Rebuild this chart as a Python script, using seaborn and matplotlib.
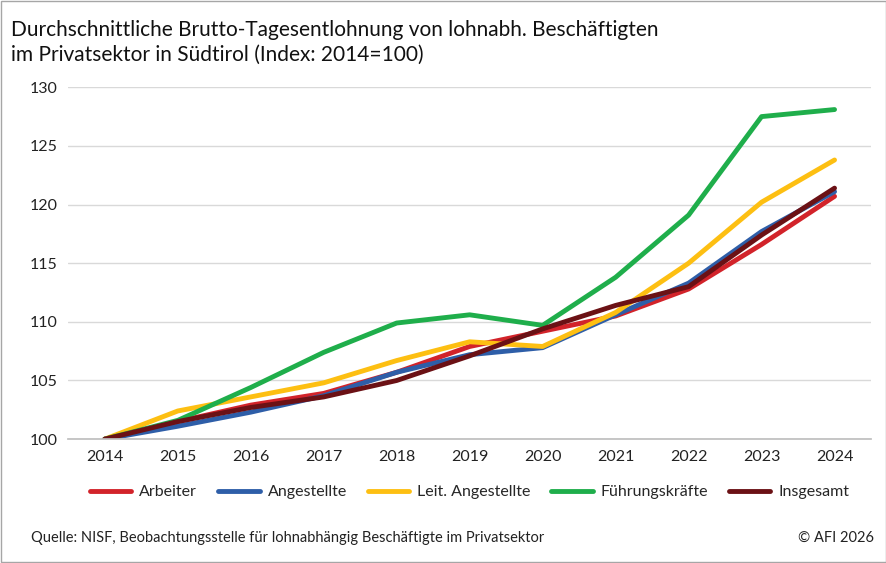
import matplotlib
matplotlib.use("Agg")
import matplotlib.pyplot as plt
import seaborn as sns
import pandas as pd

years = list(range(2014, 2025))
arbeiter = [100, 101.5, 102.9, 103.9, 105.7, 107.9, 109.2, 110.5, 112.8, 116.6, 120.7]
angestellte = [100, 101.1, 102.3, 103.7, 105.7, 107.2, 107.8, 110.6, 113.3, 117.7, 121.1]
leit_angestellte = [100, 102.4, 103.6, 104.8, 106.7, 108.3, 107.9, 110.8, 115.0, 120.2, 123.8]
fuehrung = [100, 101.6, 104.4, 107.4, 109.9, 110.6, 109.7, 113.8, 119.1, 127.5, 128.1]
insgesamt = [100, 101.5, 102.7, 103.6, 105.0, 107.1, 109.4, 111.4, 113.0, 117.4, 121.4]

series = {
    "Arbeiter": (arbeiter, "#d2232a"),
    "Angestellte": (angestellte, "#2e5ea8"),
    "Leit. Angestellte": (leit_angestellte, "#fdbf12"),
    "Führungskräfte": (fuehrung, "#1fae4b"),
    "Insgesamt": (insgesamt, "#6b1115"),
}
df = pd.DataFrame({"Jahr": years * len(series),
                   "Gruppe": sum([[k] * len(years) for k in series], []),
                   "Wert": sum([v[0] for v in series.values()], [])})

sns.set_theme(style="white")
plt.rcParams["font.family"] = ["Lato", "DejaVu Sans"]

fig = plt.figure(figsize=(8.87, 5.63), dpi=100)
ax = fig.add_axes([0.077, 0.22, 0.905, 0.625])
sns.lineplot(data=df, x="Jahr", y="Wert", hue="Gruppe", ax=ax, linewidth=3.5,
             palette={k: v[1] for k, v in series.items()}, legend=True)

ax.set_ylim(100, 130)
ax.set_xlim(2013.5, 2024.5)
ax.set_yticks(range(100, 131, 5))
ax.set_xticks(years)
ax.grid(axis="y", color="#d9d9d9", linewidth=1)
ax.set_axisbelow(True)
for s in ["top", "right", "left"]:
    ax.spines[s].set_visible(False)
ax.spines["bottom"].set_color("#bfbfbf")
ax.tick_params(axis="both", labelsize=11.5, colors="#222222", length=0, pad=8)
ax.set_xlabel("")
ax.set_ylabel("")
ax.legend(loc="upper center", bbox_to_anchor=(0.5, -0.09), ncol=5, frameon=False,
          fontsize=11.5, handlelength=2.6, handletextpad=0.5, columnspacing=1.3)

fig.text(0.012, 0.965, "Durchschnittliche Brutto-Tagesentlohnung von lohnabh. Beschäftigten\n"
         "im Privatsektor in Südtirol (Index: 2014=100)", fontsize=15, va="top",
         linespacing=1.35, color="#111111")
fig.text(0.035, 0.038, "Quelle: NISF, Beobachtungsstelle für lohnabhängig Beschäftigte im Privatsektor",
         fontsize=10.5, color="#222222")
fig.text(0.985, 0.038, "© AFI 2026", fontsize=10.5, ha="right", color="#222222")
fig.patches.append(plt.Rectangle((0.001, 0.001), 0.998, 0.998, transform=fig.transFigure,
                                 fill=False, edgecolor="#a6a6a6", linewidth=1))
fig.savefig("out.png", dpi=100)
